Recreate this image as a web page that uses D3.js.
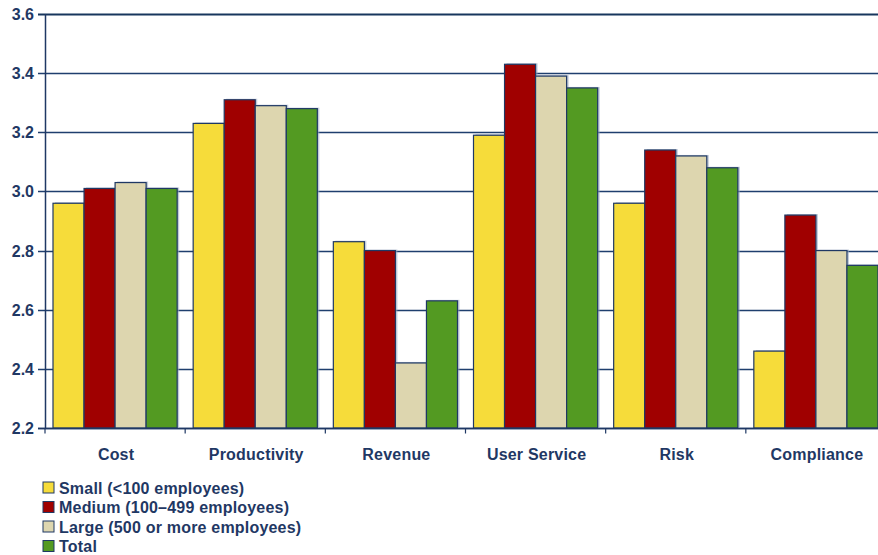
<!DOCTYPE html>
<html>
<head>
<meta charset="utf-8">
<script src="https://cdn.jsdelivr.net/npm/d3@7"></script>
<style>
  body { margin: 0; background: #fff; overflow: hidden; }
  svg text { font-family: "Liberation Sans", Arial, sans-serif; font-weight: bold; fill: #1F3864; }
</style>
</head>
<body>
<script>
// chart size
const width = 878;
const height = 555;

// data
const categories = ["Cost", "Productivity", "Revenue", "User Service", "Risk", "Compliance"];
const seriesNames = ["Small (<100 employees)", "Medium (100\u2013499 employees)", "Large (500 or more employees)", "Total"];
const small = [2.96, 3.23, 2.83, 3.19, 2.96, 2.46];
const medium = [3.01, 3.31, 2.80, 3.43, 3.14, 2.92];
const large = [3.03, 3.29, 2.42, 3.39, 3.12, 2.80];
const total = [3.01, 3.28, 2.63, 3.35, 3.08, 2.75];
const yTicks = [2.2, 2.4, 2.6, 2.8, 3.0, 3.2, 3.4, 3.6];
const colors = ["#F6DC3A", "#A00000", "#DDD6AF", "#539A22"];

const seriesValues = [small, medium, large, total];

const margin = { top: 14, bottom: 127, left: 45 };

const svg = d3.select("body").append("svg")
  .attr("width", width)
  .attr("height", height);

// plot area runs a bit past the right edge of the picture
const x = d3.scaleBand()
  .domain(categories)
  .range([margin.left, 886])
  .paddingInner(0)
  .paddingOuter(0);

const x1 = d3.scaleBand()
  .domain(d3.range(seriesNames.length))
  .range([8, x.bandwidth() - 8]);

const y = d3.scaleLinear()
  .domain([2.2, 3.6])
  .range([height - margin.bottom, margin.top]);

// gridlines
svg.append("g")
  .selectAll("line")
  .data(yTicks)
  .join("line")
  .attr("x1", margin.left - 7)
  .attr("x2", width)
  .attr("y1", d => Math.round(y(d)) + 0.5)
  .attr("y2", d => Math.round(y(d)) + 0.5)
  .attr("stroke", d => d === 3.6 ? "#17365D" : "#1F3F6E")
  .attr("stroke-width", d => d === 3.6 ? 2 : 1.3);

// y labels
svg.append("g")
  .selectAll("text")
  .data(yTicks)
  .join("text")
  .attr("x", 34)
  .attr("y", d => y(d) + 6)
  .attr("text-anchor", "end")
  .style("font-size", "16px")
  .text(d => d.toFixed(1));

// bars, grouped by category
const groups = svg.append("g")
  .selectAll("g")
  .data(categories)
  .join("g")
  .attr("transform", d => `translate(${x(d)},0)`);

groups.selectAll("rect.shadow")
  .data((d, i) => seriesValues.map((s, k) => ({ k, v: s[i] })))
  .join("rect")
  .attr("class", "shadow")
  .attr("x", d => x1(d.k) + 2)
  .attr("y", d => y(d.v) - 1)
  .attr("width", x1.bandwidth())
  .attr("height", d => y(2.2) - y(d.v))
  .attr("fill", "#9AA8C0")
  .attr("opacity", 0.6);

groups.selectAll("rect.bar")
  .data((d, i) => seriesValues.map((s, k) => ({ k, v: s[i] })))
  .join("rect")
  .attr("class", "bar")
  .attr("x", d => x1(d.k))
  .attr("y", d => y(d.v))
  .attr("width", x1.bandwidth())
  .attr("height", d => y(2.2) - y(d.v))
  .attr("fill", d => colors[d.k])
  .attr("stroke", "#1F3864")
  .attr("stroke-width", 1.2);

// left axis line
svg.append("line")
  .attr("x1", margin.left + 0.5)
  .attr("x2", margin.left + 0.5)
  .attr("y1", y(3.6))
  .attr("y2", y(2.2))
  .attr("stroke", "#1F3864")
  .attr("stroke-width", 1.5);

// bottom axis with category ticks
const xAxisY = Math.round(y(2.2)) + 0.5;
svg.append("line")
  .attr("x1", margin.left - 7)
  .attr("x2", width)
  .attr("y1", xAxisY)
  .attr("y2", xAxisY)
  .attr("stroke", "#1F3864")
  .attr("stroke-width", 1.5);

svg.append("g")
  .selectAll("line")
  .data(categories)
  .join("line")
  .attr("x1", d => x(d))
  .attr("x2", d => x(d))
  .attr("y1", xAxisY)
  .attr("y2", xAxisY + 5)
  .attr("stroke", "#1F3864")
  .attr("stroke-width", 1.2);

svg.append("g")
  .selectAll("text")
  .data(categories)
  .join("text")
  .attr("x", d => x(d) + x.bandwidth() / 2 + 1)
  .attr("y", 460)
  .attr("text-anchor", "middle")
  .style("font-size", "16px")
  .style("letter-spacing", "0.2px")
  .text(d => d);

// legend
const legend = svg.append("g")
  .selectAll("g")
  .data(seriesNames)
  .join("g")
  .attr("transform", (d, i) => `translate(43,${482 + i * 19.5})`);

legend.append("rect")
  .attr("width", 11)
  .attr("height", 11)
  .attr("fill", (d, i) => colors[i])
  .attr("stroke", "#1F3864")
  .attr("stroke-width", 1);

legend.append("text")
  .attr("x", 16)
  .attr("y", 11.5)
  .style("font-size", "16px")
  .style("letter-spacing", "0.2px")
  .text(d => d);
</script>
</body>
</html>
